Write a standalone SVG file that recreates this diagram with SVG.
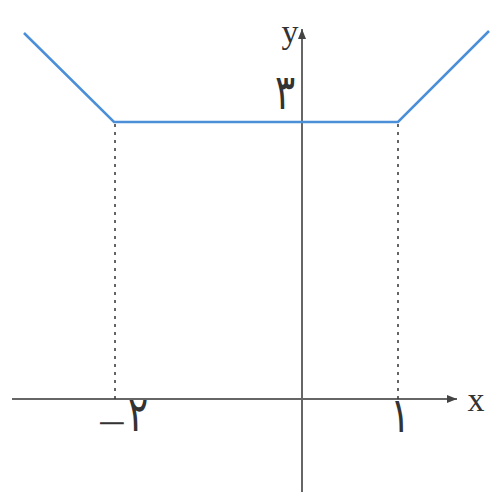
<svg xmlns="http://www.w3.org/2000/svg" width="494" height="500" viewBox="0 0 494 500">
<defs>
<marker id="ah" viewBox="0 0 10 10" refX="10" refY="5" markerWidth="10" markerHeight="10" markerUnits="userSpaceOnUse" orient="auto">
<path d="M0,1 L10,5 L0,9 Z" fill="#444"/>
</marker>
<style>
.axis{stroke:#666;stroke-width:2;fill:none}
.dash{stroke:#333;stroke-width:1.5;stroke-dasharray:3,5;fill:none}
.graph{stroke:#4a8fd8;stroke-width:2.5;fill:none;stroke-linejoin:miter}
.lbl{font-family:"Liberation Serif",serif;font-size:34px;fill:#333}
.num{font-family:"DejaVu Sans",sans-serif;font-size:38px;font-weight:200;fill:#333}
</style>
</defs>
<rect width="494" height="500" fill="#fff"/>
<g id="connectors">
<line class="axis" x1="12" y1="399" x2="457" y2="399" marker-end="url(#ah)"/>
<line class="axis" x1="302" y1="492" x2="302" y2="29" marker-end="url(#ah)"/>
<line class="dash" x1="115" y1="124" x2="115" y2="399"/>
<line class="dash" x1="398" y1="124" x2="398" y2="399"/>
<polyline class="graph" points="24,33 114,122 398,122 489,31"/>
</g>
<g id="labels">
<text class="lbl" x="476" y="411" text-anchor="middle">x</text>
<text class="lbl" x="290" y="43" text-anchor="middle">y</text>
<text class="num" transform="translate(285,109) scale(1,1.3)" text-anchor="middle">۳</text>
<text class="num" transform="translate(96,431) scale(1,1.3)"><tspan dy="6">−</tspan><tspan dy="-6">۲</tspan></text>
<text class="num" transform="translate(400,432) scale(1,1.3)" text-anchor="middle">۱</text>
</g>
</svg>
